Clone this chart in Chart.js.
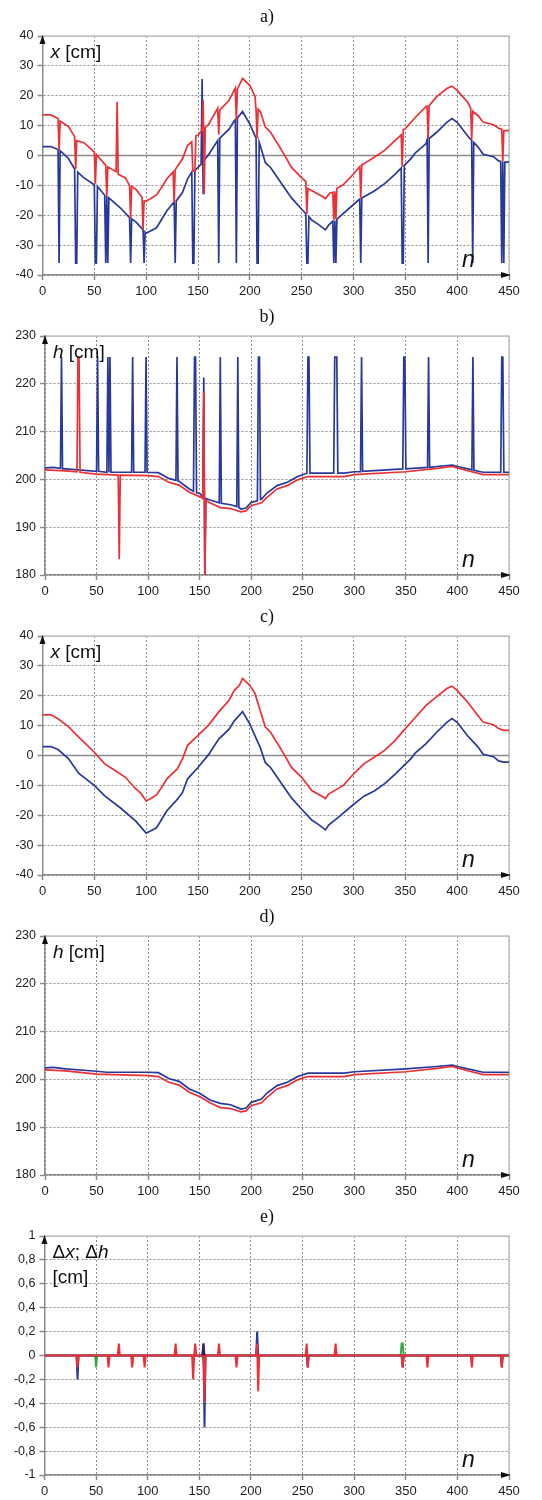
<!DOCTYPE html>
<html>
<head>
<meta charset="utf-8">
<script src="https://cdn.jsdelivr.net/npm/chart.js@4.4.1/dist/chart.umd.min.js"></script>
<style>
  html, body { margin: 0; padding: 0; background: #fff; }
  .panel { position: relative; width: 542px; height: 300px; }
  canvas { display: block; }
</style>
</head>
<body>
<div class="panel"><canvas id="chartA" width="542" height="300"></canvas></div>
<div class="panel"><canvas id="chartB" width="542" height="300"></canvas></div>
<div class="panel"><canvas id="chartC" width="542" height="300"></canvas></div>
<div class="panel"><canvas id="chartD" width="542" height="300"></canvas></div>
<div class="panel"><canvas id="chartE" width="542" height="300"></canvas></div>
<script>
// n axis ticks (shared by all panels)
const nTicks = [0, 50, 100, 150, 200, 250, 300, 350, 400, 450];
const xTicks = [-40, -30, -20, -10, 0, 10, 20, 30, 40];
const hTicks = [180, 190, 200, 210, 220, 230];
const dTicks = [-1, -0.8, -0.6, -0.4, -0.2, 0, 0.2, 0.4, 0.6, 0.8, 1];
const dTickLabels = ["-1", "-0,8", "-0,6", "-0,4", "-0,2", "0", "0,2", "0,4", "0,6", "0,8", "1"];

// a) x [cm] raw, with dropouts  ([n, value])
const aBlue = [[0,3],[8,3],[15,2],[16,-36],[17,1.6],[25,-1],[31,-4.5],[32,-36],[33,-36],[34,-5.6],[40,-7.5],[50,-9.8],[51,-36],[52,-36],[53,-10.3],[60,-13.3],[61,-36],[62,-13.6],[63,-36],[64,-14.2],[75,-17.5],[84,-20.8],[85,-36],[86,-21.2],[90,-22.2],[97,-24.8],[98,-36],[99,-25.6],[100,-26],[110,-24.2],[120,-18.5],[127,-15.5],[128,-36],[129,-15.2],[135,-12.4],[140,-7.8],[144,-5.5],[145,-36],[146,-36],[147,-5],[150,-4],[153,-3],[154,25.6],[155,-13],[156,-1.5],[160,0.2],[169,5],[170,-36],[171,5.8],[180,8.8],[185,11.6],[186,12],[187,-36],[188,12.6],[193,14.7],[200,10.5],[205,6.6],[206,5.8],[207,-36],[208,-36],[209,4.5],[215,-2.4],[220,-4],[230,-9.1],[240,-14.1],[250,-18],[254,-19.5],[255,-36],[256,-36],[257,-20.5],[260,-21.7],[265,-22.8],[273,-24.9],[276,-23.3],[280,-22],[281,-36],[282,-21.8],[283,-36],[284,-21.3],[300,-16.4],[306,-14.6],[307,-36],[308,-14.2],[320,-11.9],[330,-9.4],[340,-6.3],[346,-4.2],[347,-36],[348,-36],[349,-3.3],[355,-1.2],[360,1],[370,4],[371,5.3],[372,-36],[373,5.7],[380,7.7],[390,11.1],[395,12.4],[400,11.1],[410,6.6],[414,5],[415,-36],[416,4.4],[420,2.9],[425,0.4],[435,-0.4],[440,-1.8],[442,-2],[443,-36],[444,-2.1],[445,-36],[446,-2.2],[450,-2.2]];
const aRed = [[0,13.6],[8,13.6],[15,12.4],[16,1.8],[17,11.5],[25,9.7],[31,6.3],[32,-4.5],[33,5],[40,4.3],[50,1.1],[51,-9.5],[52,0.3],[60,-2.9],[61,-3.2],[62,-13.6],[63,-3.8],[71,-5.4],[72,18],[73,-6.3],[80,-7.5],[84,-10],[85,-21],[86,-10.4],[90,-11.3],[96,-14],[97,-24.6],[98,-15.2],[100,-15.3],[105,-14.3],[110,-13.2],[115,-10.6],[120,-7.8],[126,-5.5],[127,-15.8],[128,-4.8],[135,-1.1],[140,3.4],[144,4.6],[145,-5.3],[147,-5],[148,6.6],[150,6.8],[154,8.5],[155,18.5],[156,-13],[157,9.5],[160,10.3],[169,15.8],[170,7],[171,15.2],[180,18.5],[186,22.6],[187,11.8],[188,22.2],[193,25.8],[200,23.5],[205,19.8],[206,15.3],[207,5.8],[208,15.5],[210,14.8],[215,9.5],[220,7.8],[230,2.2],[240,-3.9],[250,-7.5],[254,-8.7],[255,-19.5],[256,-11],[260,-11.8],[270,-13.7],[273,-14.4],[277,-12.6],[280,-12.3],[281,-21.5],[282,-12],[283,-21.3],[284,-11],[290,-9.8],[300,-6.2],[306,-3.7],[307,-14.3],[308,-3.1],[310,-2.8],[320,-0.6],[330,1.7],[340,5],[346,6.9],[347,-3.8],[348,8.6],[350,9],[360,12.9],[370,16.4],[371,16.5],[372,5.8],[373,16.7],[380,19.6],[390,22.4],[395,23.2],[400,21.8],[410,17.9],[413,15.9],[414,5.2],[415,14.8],[420,13.4],[425,11.2],[435,10.3],[440,9.1],[443,8.8],[444,-2.1],[445,8.3],[450,8.3]];

// b) h [cm] raw, with dropouts
const bBlue = [[0,202.4],[8,202.5],[15,202.3],[16,225.6],[17,202.2],[20,202.2],[50,201.7],[51,225.6],[52,201.7],[60,201.5],[61,225.6],[62,201.5],[63,225.6],[64,201.5],[84,201.5],[85,225.6],[86,201.5],[97,201.5],[98,225.6],[99,201.5],[110,201.4],[120,200.2],[127,199.8],[128,225.6],[129,199.7],[130,199.6],[140,198],[144,197.5],[145,225.6],[146,225.6],[147,197.2],[150,197.1],[153,196.3],[154,221.3],[155,180],[156,196],[160,195.7],[169,195.1],[170,225.6],[171,195],[180,194.7],[186,194.3],[187,225.6],[188,194.1],[190,193.8],[195,194],[200,195.2],[206,195.5],[207,225.6],[208,225.6],[209,195.8],[210,195.9],[215,197.1],[225,198.7],[235,199.4],[245,200.6],[254,201.3],[255,225.6],[256,225.6],[257,201.3],[280,201.3],[281,225.6],[282,225.6],[283,225.6],[284,201.3],[290,201.3],[300,201.6],[306,201.6],[307,225.6],[308,201.7],[347,202.2],[348,225.6],[349,225.6],[350,202.2],[371,202.5],[372,225.6],[373,202.5],[380,202.7],[395,203],[400,202.7],[410,202.2],[414,202],[415,225.6],[416,201.9],[425,201.5],[442,201.5],[443,225.6],[444,225.6],[445,201.5],[450,201.5]];
const bRed = [[0,202],[20,201.8],[31,201.6],[32,225.6],[33,225.6],[34,201.5],[50,201.1],[71,200.9],[72,183.3],[73,200.9],[100,200.8],[110,200.6],[120,199.4],[130,198.8],[140,197.3],[150,196.4],[153,196],[154,218.3],[155,180],[156,195.6],[160,195.1],[170,194.1],[180,193.9],[190,193.2],[195,193.4],[200,194.5],[210,195.1],[215,196.2],[225,198],[235,198.7],[245,199.9],[255,200.6],[290,200.6],[300,201],[350,201.6],[380,202.3],[395,202.7],[400,202.4],[410,201.8],[425,201],[450,201]];

// c) x [cm] filtered
const cBlue = [[0,3],[8,3],[15,2],[25,-1],[35,-6],[50,-10],[60,-13.5],[75,-17.5],[90,-22],[100,-26],[110,-24.2],[120,-18.5],[130,-14.7],[135,-12.4],[140,-7.8],[150,-4],[160,0.2],[170,5.5],[180,8.8],[185,11.6],[193,14.7],[200,10.5],[205,6.6],[210,2.7],[215,-2.4],[220,-4],[230,-9.1],[240,-14.1],[250,-18],[260,-21.7],[265,-22.8],[273,-24.9],[276,-23.3],[285,-20.8],[300,-16.4],[310,-13.6],[320,-11.9],[330,-9.4],[340,-6.3],[350,-2.9],[355,-1.2],[360,1],[370,4],[380,7.7],[390,11.1],[395,12.4],[400,11.1],[410,6.6],[420,2.9],[425,0.4],[435,-0.4],[440,-1.8],[445,-2.2],[450,-2.2]];
const cRed = [[0,13.6],[8,13.6],[15,12.3],[25,9.7],[30,7.8],[40,4.5],[50,1.1],[60,-2.8],[70,-5],[80,-7.3],[90,-11.2],[95,-12.7],[100,-15.2],[105,-14.3],[110,-13.2],[115,-10.6],[120,-7.8],[130,-4.5],[135,-1.1],[140,3.4],[150,6.7],[160,10.1],[170,14.6],[180,18.5],[185,21.8],[190,23.5],[193,25.8],[200,23.5],[205,20.7],[210,15.1],[215,9.5],[220,7.8],[230,2.2],[240,-3.9],[250,-7.3],[260,-11.8],[270,-13.7],[273,-14.4],[276,-12.9],[290,-10.1],[300,-6.2],[310,-2.8],[320,-0.6],[330,1.7],[340,5],[350,9],[360,12.9],[370,16.8],[380,19.6],[390,22.4],[395,23.2],[400,21.8],[410,17.9],[420,13.4],[425,11.2],[435,10.3],[440,9],[445,8.4],[450,8.4]];

// d) h [cm] filtered
const dBlue = [[0,202.4],[8,202.5],[20,202.2],[50,201.7],[60,201.5],[100,201.5],[110,201.4],[120,200.2],[130,199.6],[140,198],[150,197.1],[160,195.7],[170,195],[180,194.7],[190,193.8],[195,194],[200,195.2],[210,195.9],[215,197.1],[225,198.7],[235,199.4],[245,200.6],[255,201.3],[290,201.3],[300,201.6],[350,202.2],[380,202.7],[395,203],[400,202.7],[410,202.2],[425,201.5],[450,201.5]];
const dRed = [[0,202],[20,201.8],[50,201.1],[100,200.8],[110,200.6],[120,199.4],[130,198.8],[140,197.3],[150,196.4],[160,195.1],[170,194.1],[180,193.9],[190,193.2],[195,193.4],[200,194.5],[210,195.1],[215,196.2],[225,198],[235,198.7],[245,199.9],[255,200.6],[290,200.6],[300,201],[350,201.6],[380,202.3],[395,202.7],[400,202.4],[410,201.8],[425,201],[450,201]];

// e) differences dx; dh [cm]
const eGreen = [[0,0],[49,0],[50,-0.1],[51,0],[153,0],[154,-0.05],[155,0],[345,0],[346,0.1],[347,0.1],[348,0],[450,0]];
const eBlue = [[0,0],[31,0],[32,-0.2],[33,0],[153,0],[154,0.1],[155,-0.6],[156,0],[205,0],[206,0.2],[207,0],[254,0],[255,-0.1],[256,0],[346,0],[347,-0.1],[348,0],[442,0],[443,-0.1],[444,0],[450,0]];
const eRed = [[0,0],[31,0],[32,-0.1],[33,0],[61,0],[62,-0.1],[63,0],[71,0],[72,0.1],[73,0],[84,0],[85,-0.1],[86,0],[96,0],[97,-0.1],[98,0],[126,0],[127,0.1],[128,0],[143,0],[144,-0.2],[145,0],[146,0.1],[147,0],[154,0],[155,-0.4],[156,0],[168,0],[169,0.1],[170,0],[185,0],[186,-0.1],[187,0],[205,0],[206,0.1],[207,-0.3],[208,0],[253,0],[254,0.1],[255,-0.1],[256,0],[281,0],[282,0.1],[283,0],[346,0],[347,-0.1],[348,0],[370,0],[371,-0.1],[372,0],[413,0],[414,-0.1],[415,0],[442,0],[443,-0.1],[444,0],[450,0]];
const eDark = [[153,0],[154,0.1],[155,0]];

const RED = "rgb(236,48,54)";
const BLUE = "rgb(40,56,156)";
const GREEN = "rgb(52,170,62)";
const DARK = "rgb(72,24,86)";

Chart.defaults.font.family = "'Liberation Sans', Arial, sans-serif";
Chart.defaults.color = "#1e1e1e";

function drawParts(ctx, parts, x, y, size) {
  parts.forEach(p => {
    ctx.font = (p.it ? "italic " : "") + size + "px 'Liberation Sans', Arial, sans-serif";
    ctx.fillText(p.t, x, y);
    x += ctx.measureText(p.t).width;
  });
}

const decor = {
  id: "decor",
  beforeDatasetsDraw(chart, args, opts) {
    const { ctx, chartArea: a, scales } = chart;
    ctx.save();
    ctx.strokeStyle = "#c2c2c2";
    ctx.lineWidth = 1.5;
    ctx.beginPath();
    ctx.moveTo(a.left, a.top);
    ctx.lineTo(a.right, a.top);
    ctx.lineTo(a.right, a.bottom);
    ctx.stroke();
    if (opts.zero) {
      const y0 = scales.y.getPixelForValue(0);
      ctx.strokeStyle = "#8a8a8a";
      ctx.beginPath();
      ctx.moveTo(a.left, y0);
      ctx.lineTo(a.right, y0);
      ctx.stroke();
    }
    ctx.restore();
  },
  afterDraw(chart, args, opts) {
    const { ctx, chartArea: a } = chart;
    ctx.save();
    // arrow heads on the axes
    ctx.fillStyle = "#111";
    ctx.beginPath();
    ctx.moveTo(a.left, a.top - 1);
    ctx.lineTo(a.left - 3, a.top + 8);
    ctx.lineTo(a.left + 3, a.top + 8);
    ctx.closePath();
    ctx.fill();
    ctx.beginPath();
    ctx.moveTo(a.right + 2, a.bottom);
    ctx.lineTo(a.right - 8, a.bottom - 3);
    ctx.lineTo(a.right - 8, a.bottom + 3);
    ctx.closePath();
    ctx.fill();
    // title
    ctx.fillStyle = "#111";
    ctx.textAlign = "center";
    ctx.textBaseline = "alphabetic";
    ctx.font = "18px 'Liberation Serif', 'Times New Roman', serif";
    ctx.fillText(opts.title, 267, 22);
    // axis labels
    ctx.textAlign = "left";
    ctx.fillStyle = "#111";
    opts.label.forEach((line, i) => drawParts(ctx, line, a.left + 8, a.top + 22 + i * 25, 19));
    drawParts(ctx, [{ t: "n", it: true }], a.right - 47, a.bottom - 8, 23);
    ctx.restore();
  }
};

// series are listed top-most first (Chart.js paints the first dataset last)
function makeChart(id, cfg) {
  return new Chart(document.getElementById(id), {
    type: "line",
    data: {
      datasets: cfg.series.map(s => ({
        data: s.points.map(p => ({ x: p[0], y: p[1] })),
        borderColor: s.color,
        borderWidth: cfg.lineWidth || 1.7,
        pointRadius: 0,
        tension: 0,
        fill: false
      }))
    },
    options: {
      responsive: false,
      animation: false,
      devicePixelRatio: 1,
      layout: { padding: { top: 36, right: 33, left: 0, bottom: 0 } },
      plugins: {
        legend: { display: false },
        tooltip: { enabled: false },
        decor: { title: cfg.title, label: cfg.label, zero: cfg.zero }
      },
      scales: {
        x: {
          type: "linear",
          min: 0,
          max: 450,
          afterBuildTicks: s => { s.ticks = nTicks.map(v => ({ value: v })); },
          afterFit: s => { s.height = 25; },
          grid: { color: "#8c8c8c", lineWidth: 1, tickLength: 5, tickColor: "#8a8a8a", tickWidth: 1.5 },
          border: { color: "#8a8a8a", width: 1.5, dash: [2, 2] },
          ticks: { font: { size: 13 }, padding: 4, maxRotation: 0, autoSkip: false }
        },
        y: {
          min: cfg.yTicks[0],
          max: cfg.yTicks[cfg.yTicks.length - 1],
          afterBuildTicks: s => { s.ticks = cfg.yTicks.map(v => ({ value: v })); },
          afterFit: s => { s.width = cfg.left; },
          grid: { color: "#8c8c8c", lineWidth: 1, tickLength: 5, tickColor: "#8a8a8a", tickWidth: 1.5 },
          border: { color: "#8a8a8a", width: 1.5, dash: [2, 2] },
          ticks: {
            font: { size: 12.5 },
            padding: 4,
            autoSkip: false,
            callback: (v, i) => cfg.yLabels[i]
          }
        }
      }
    },
    plugins: [decor]
  });
}

makeChart("chartA", {
  title: "a)", left: 42.5, zero: true,
  yTicks: xTicks, yLabels: xTicks.map(String),
  label: [[{ t: "x", it: true }, { t: " [cm]" }]],
  series: [{ points: aRed, color: RED }, { points: aBlue, color: BLUE }]
});
makeChart("chartB", {
  title: "b)", left: 45, zero: false,
  yTicks: hTicks, yLabels: hTicks.map(String),
  label: [[{ t: "h", it: true }, { t: " [cm]" }]],
  series: [{ points: bRed, color: RED }, { points: bBlue, color: BLUE }]
});
makeChart("chartC", {
  title: "c)", left: 42.5, zero: true,
  yTicks: xTicks, yLabels: xTicks.map(String),
  label: [[{ t: "x", it: true }, { t: " [cm]" }]],
  series: [{ points: cRed, color: RED }, { points: cBlue, color: BLUE }]
});
makeChart("chartD", {
  title: "d)", left: 45, zero: false,
  yTicks: hTicks, yLabels: hTicks.map(String),
  label: [[{ t: "h", it: true }, { t: " [cm]" }]],
  series: [{ points: dRed, color: RED }, { points: dBlue, color: BLUE }]
});
makeChart("chartE", {
  title: "e)", left: 44.5, zero: false, lineWidth: 2,
  yTicks: dTicks, yLabels: dTickLabels,
  label: [[{ t: "\u0394" }, { t: "x", it: true }, { t: "; \u0394" }, { t: "h", it: true }], [{ t: "[cm]" }]],
  series: [
    { points: eDark, color: DARK },
    { points: eRed, color: RED },
    { points: eBlue, color: BLUE },
    { points: eGreen, color: GREEN }
  ]
});
</script>
</body>
</html>
